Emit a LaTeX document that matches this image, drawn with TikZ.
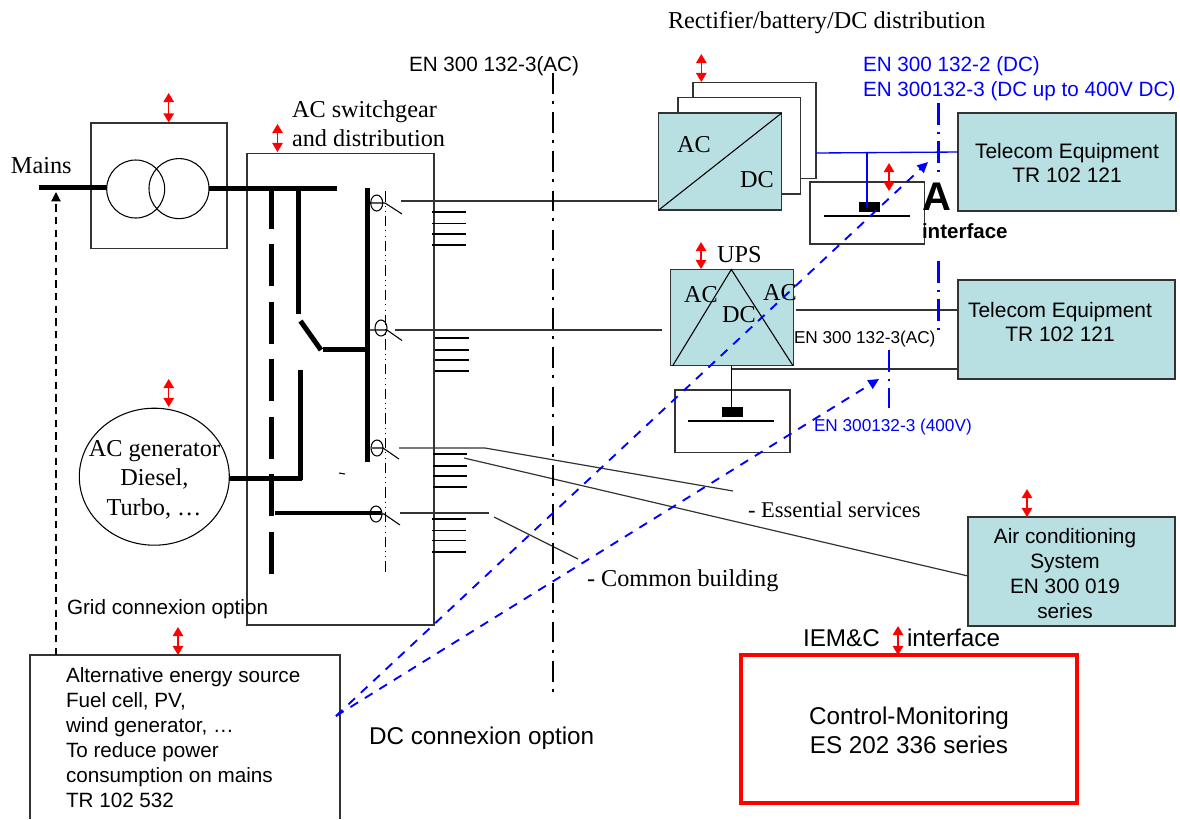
\documentclass[tikz,border=0pt]{standalone}
\usepackage{fontspec}
\setmainfont{Liberation Serif}
\setsansfont{Liberation Sans}
\usetikzlibrary{arrows.meta,calc,shapes.geometric}
\definecolor{teal0}{HTML}{B8DFE2}
\definecolor{blue0}{HTML}{0000FF}
\definecolor{red0}{HTML}{FF0000}
\newcommand{\pxbox}[6]{\node[#6, minimum width={(#4-#2)*0.75pt}, minimum height={(#5-#3)*0.75pt}] (#1) at ({(#2+#4)/2},{(#3+#5)/2}) {};}
\tikzset{
  x=0.75pt,y=-0.75pt,
  every node/.style={inner sep=0pt,outer sep=0pt},
  plainbox/.style={draw=black!80,line width=1pt,fill=white},
  tealbox/.style={draw=black!80,line width=1pt,fill=teal0},
  thin1/.style={draw=black!80,line width=0.9pt},
  thinb/.style={draw=black,line width=0.8pt},
  bus/.style={draw=black,line width=3.75pt},
  bus2/.style={draw=black,line width=3pt},
  busdash/.style={draw=black,line width=3.75pt,dash pattern=on 31.5pt off 11.6pt},
  swaxis/.style={draw=black,line width=0.85pt,dash pattern=on 7.7pt off 3.1pt on 0.75pt off 3.1pt on 0.75pt off 3.1pt},
  redarrow/.style={draw=red0,line width=1.1pt,{Triangle[width=7.8pt,length=6.8pt]}-{Triangle[width=7.8pt,length=6.8pt]}},
  blueline/.style={draw=blue0,line width=1pt},
  bluedashdot/.style={draw=blue0,line width=1.8pt,dash pattern=on 16.5pt off 5.2pt on 1.5pt off 5.2pt},
  midaxis/.style={draw=black,line width=2.2pt,dash pattern=on 15.5pt off 5.4pt on 2.2pt off 6.3pt},
  bluedash/.style={draw=blue0,line width=1.4pt,dash pattern=on 6.75pt off 6pt,-{Triangle[width=7.5pt,length=8pt]}},
  blackdash/.style={draw=black,line width=0.9pt,dash pattern=on 5.5pt off 4pt,-{Triangle[width=7pt,length=7pt]}},
  serif18/.style={font=\rmfamily\fontsize{18.2}{21.6}\selectfont,text=black,anchor=base west},
  sans15/.style={font=\sffamily\fontsize{15.5}{18.75}\selectfont,text=black,anchor=base west},
  sans13/.style={font=\sffamily\fontsize{12.9}{15}\selectfont,text=black,anchor=base west},
  sans18/.style={font=\sffamily\fontsize{18.2}{21.6}\selectfont,text=black,anchor=base west},
}
\begin{document}
\begin{tikzpicture}
\useasboundingbox (0,0) rectangle (1180,819);

% ---- boxes
\pxbox{trafo}{91}{123}{227}{248.5}{plainbox}
\pxbox{swg}{247}{153.5}{434}{625}{plainbox}
\pxbox{rect3}{693}{82.7}{816}{178.7}{plainbox}
\pxbox{rect2}{678}{97.7}{800.7}{194}{plainbox}
\pxbox{rect1}{658.7}{113}{781.7}{210}{tealbox}
\pxbox{bat1}{810}{182}{924.7}{244}{plainbox}
\pxbox{ups}{670.7}{269.3}{793.3}{365.7}{tealbox}
\pxbox{bat2}{675}{390}{790}{452.7}{plainbox}
\pxbox{tel1}{958}{113}{1176}{211}{tealbox}
\pxbox{tel2}{958}{280}{1175}{379}{tealbox}
\pxbox{air}{968}{517}{1175}{626}{tealbox}
\pxbox{ctrl}{741}{655}{1077}{803}{draw=red0,line width=3pt,fill=white}
\draw[plainbox] (30,819) -- (30,655) -- (340,655) -- (340,819);

% ---- rectifier and UPS inner lines
\draw[thinb] (rect1.south west) -- (rect1.north east);
\coordinate (upsapex) at (731.3,269.5);
\draw[thinb] (672.7,365.7) -- (upsapex) -- (793,365.7);

% ---- transformer and generator
\node[draw=black,line width=0.8pt,circle,minimum size={58*0.75pt}] (tl) at (135.7,189) {};
\node[draw=black,line width=0.8pt,circle,minimum size={60*0.75pt}] (tr) at (179,188.6) {};
\node[draw=black,line width=0.8pt,ellipse,minimum width={150*0.75pt},minimum height={137*0.75pt}] (gen) at (154.3,476.7) {};

% ---- busbars
\coordinate (mainsend) at (39,187);
\coordinate (bus1end) at (337,188.6);
\draw[bus] (mainsend) -- (mainsend -| tl.west);
\draw[bus] (tr.east) -- (bus1end);
\draw[busdash] (271.7,187) -- (271.7,577);
\draw[bus] (298,187) -- (298,314);
\draw[bus] (300.5,321) -- (321,350);
\draw[bus] (323,349) -- (367.5,349);
\draw[bus] (367.5,188) -- (367.5,462);
\draw[bus] (300,370) -- (300,480);
\draw[bus] (gen.east |- 0,478) -- (302,478);
\draw[bus2] (275,513) -- (381,513);

% ---- switches
\foreach \n/\cx/\cy/\sx/\bx/\by/\ex/\ey in {
  a/376.7/203/367/385/203/402/214,
  b/381/328/370/387/330/402/340.5,
  c/377/448/372/383/448/399/459,
  d/376/514/376/384/514/400/525}{
  \node[draw=black,line width=0.8pt,ellipse,minimum width={12*0.75pt},minimum height={16*0.75pt}] (sw\n) at (\cx,\cy) {};
  \draw[thinb] (\sx,\by) -- (\bx,\by) -- (\ex,\ey);
}
\draw[swaxis] (385.4,191.3) -- (385.4,573);
\draw[thinb] (339,473) -- (345,474);

% ---- feeder ticks
\foreach \xa/\ya/\yb/\yc/\yd in {432/212/223.5/234/245, 435/338/350/360/371, 433/454/466/476/487, 432/519/530.5/540.5/552}{
  \foreach \yy in {\ya,\yb,\yc,\yd}{\draw[thinb] (\xa,\yy) -- ++(34,0);}
}

% ---- feeders
\coordinate (f1) at (401,201);
\coordinate (f1e) at (657,201);
\coordinate (f2) at (395,330);
\coordinate (f2e) at (662,330);
\coordinate (f3) at (399,448);
\coordinate (f3k) at (485,448);
\coordinate (ess) at (733,491);
\coordinate (f3b) at (464,458);
\coordinate (f4) at (400,513);
\coordinate (f4e) at (489,513);
\coordinate (f4b) at (494,517);
\coordinate (com) at (578,559);
\draw[thin1] (f1) -- (f1e);
\draw[thin1] (f2) -- (f2e);
\draw[thin1] (f3) -- (f3k) -- (ess);
\draw[thin1] (f3b) -- (air.west |- 0,576);
\draw[thin1] (f4) -- (f4e);
\draw[thin1] (f4b) -- (com);

% ---- UPS connections
\draw[thin1] (796,310) -- (tel2.west |- 0,310);
\draw[thin1] (731.3,369) -- (tel2.west |- 0,369);
\node[fill=black,minimum width={21*0.75pt},minimum height={10*0.75pt}] (cell2) at (732.8,412) {};
\draw[thinb] (731.3,365.7) -- (cell2.north -| 731.3,0);
\coordinate (pl2a) at (688,421);
\coordinate (pl2b) at (774,421);
\draw[thinb] (pl2a) -- (pl2b);

% ---- DC connections
\node[fill=black,minimum width={21*0.75pt},minimum height={10*0.75pt}] (cell1) at (869.5,207) {};
\coordinate (pl1a) at (824,216);
\coordinate (pl1b) at (910,216);
\draw[thinb] (pl1a) -- (pl1b);
\draw[blueline] (rect3.east |- 0,153) -- (tel1.west |- 0,152);
\draw[blueline] (867,152.5) -- (867,208);

% ---- reference lines
\draw[midaxis] (553,73) -- (553,693);
\draw[bluedashdot] (938.3,103) -- (938.3,172);
\draw[bluedashdot] (938.3,261) -- (938.3,330);
\draw[bluedashdot] (889,350) -- (889,408);

% ---- red arrows
\foreach \xx/\ya/\yb in {168.7/93/122.5, 277.5/124/152, 701.3/54/82, 889/163/191, 701/242/269, 168.7/379/407, 178/627/655, 1027/489/517, 898/626/655}{
  \draw[redarrow] (\xx,\ya) -- (\xx,\yb);
}

% ---- texts
\node[serif18] (tmains) at (11,173) {Mains};
\node[serif18] (tsw1) at (292,117) {AC switchgear};
\node[serif18] (tsw2) at (292,146) {and distribution};
\node[serif18,anchor=base] (tg1) at (154.5,456) {AC generator};
\node[serif18,anchor=base] (tg2) at (154.5,485) {Diesel,};
\node[serif18,anchor=base] (tg3) at (154,515) {Turbo, …};
\node[serif18] (trect) at (668,28) {Rectifier/battery/DC distribution};
\node[serif18] (tac1) at (677,152) {AC};
\node[serif18] (tdc1) at (740,187) {DC};
\node[serif18] (tups) at (717,262) {UPS};
\node[serif18] (tac2) at (684,302) {AC};
\node[serif18] (tdc2) at (722,322) {DC};
\node[serif18] (tac3) at (763,300) {AC};
\node[serif18,font=\rmfamily\fontsize{16.9}{20}\selectfont] (tess) at (748,517) {- Essential services};
\node[serif18] (tcom) at (587,586) {- Common building};
\node[sans15] (ten1) at (409,71) {EN 300 132-3(AC)};
\node[sans15,text=blue0] (ten2) at (863,71) {EN 300 132-2 (DC)};
\node[sans15,text=blue0] (ten3) at (863,96) {EN 300132-3 (DC up to 400V DC)};
\node[sans13] (ten4) at (794,343) {EN 300 132-3(AC)};
\node[sans13,text=blue0] (ten5) at (814,431) {EN 300132-3 (400V)};
\node[sans15,font=\sffamily\bfseries\fontsize{30}{30}\selectfont] (tA) at (922.5,210) {A};
\node[sans15,font=\sffamily\bfseries\fontsize{15.4}{18}\selectfont] (tif) at (922,238) {interface};
\node[font=\sffamily\fontsize{15.7}{18}\selectfont,align=center] (ttel1) at (1067,163) {Telecom Equipment\\TR 102 121};
\node[font=\sffamily\fontsize{15.7}{18}\selectfont,align=center] (ttel2) at (1060,322) {Telecom Equipment\\TR 102 121};
\node[font=\sffamily\fontsize{15.6}{18.75}\selectfont,align=center] (tair) at (1065,574) {Air conditioning\\System\\EN 300 019\\series};
\node[sans15] (tgrid) at (67,614) {Grid connexion option};
\node[font=\sffamily\fontsize{15.5}{18.75}\selectfont,align=left,anchor=north west] (talt) at (66,668) {Alternative energy source\\Fuel cell, PV,\\wind generator, …\\To reduce power\\consumption on mains\\TR 102 532};
\node[sans18] (tdcopt) at (369,744) {DC connexion option};
\node[sans18] (tiem) at (803,646) {IEM\&C};
\node[sans18] (tiemi) at (907,646) {interface};
\node[font=\sffamily\fontsize{18.2}{21.6}\selectfont,align=center] (tctrl) at (909,730) {Control-Monitoring\\ES 202 336 series};

% ---- option arrows
\coordinate (altout) at (336,716);
\coordinate (dcin) at (928,162);
\coordinate (acin) at (879,379);
\draw[bluedash] (altout) -- (dcin);
\draw[bluedash] (altout) -- (acin);
\coordinate (altup) at (56,655);
\coordinate (mainsin) at (56,192);
\draw[blackdash] (altup) -- (mainsin);
\end{tikzpicture}
\end{document}
